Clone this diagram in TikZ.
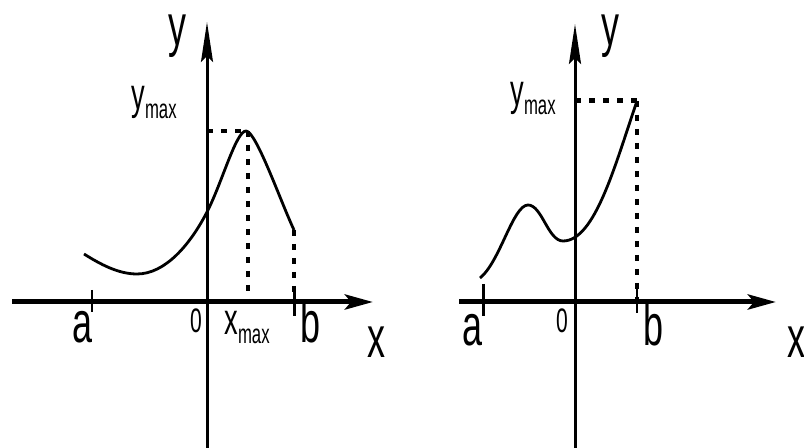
\documentclass[tikz,border=0pt]{standalone}
\usepackage{fontspec}
\setmainfont{Liberation Sans}[FakeStretch=0.62]
\usepackage{tikz}
\usetikzlibrary{arrows.meta,calc}
\newcommand{\maxsub}{\raisebox{-4.5pt}{\fontsize{13.5}{14}\selectfont max}}

\begin{document}
\begin{tikzpicture} [x=0.5pt, y=-0.5pt,
    line width=1.4pt,
    every node/.style={inner sep=0pt, anchor=base},
    lbl/.style={font=\fontsize{29}{30}\selectfont},
    sublbl/.style={font=\fontsize{22}{23}\selectfont, anchor=base west},
    zero/.style={font=\fontsize{17}{18}\selectfont},
    xaxis/.style={line width=2.5pt, -{Stealth[length=14pt, width=7.5pt, inset=3pt]}},
    yaxis/.style={line width=1.5pt, -{Stealth[length=20pt, width=6pt, inset=3pt]}},
    guide/.style={line width=1.8pt, dash pattern=on 3pt off 4pt}]
  \useasboundingbox (0,0) rectangle (804,448);

  % left graph
  \coordinate (L0) at (207,302);
  \coordinate (La) at (92,302);
  \coordinate (Lb) at (294,302);
  \coordinate (Lm) at (248,302);
  \coordinate (Lpeak) at (246,131);
  \coordinate (Lend) at (294,230);
  \draw[xaxis] (12,302) -- (373,302);
  \draw[yaxis] (207,448) -- (207,22);
  \draw[line width=1pt] (92,290) -- (92,312);
  \draw[line width=1.5pt] (294,287) -- (294,316);
  \draw (84,254) .. controls (100,264) and (118,274) .. (137,274)
                 .. controls (165,274) and (190,245) .. (207,212)
                 .. controls (222,183) and (236,131) .. (Lpeak)
                 .. controls (256,131) and (280,200) .. (Lend);
  \draw[guide, line width=2.2pt] (207,131) -- (Lpeak);
  \draw[guide] (248,131) -- (Lm);
  \draw[guide, line width=2pt] (Lend) -- (Lb);

  \node[lbl] (Ly) at (177,46) {y};
  \node[sublbl] (Lymax) at (130,110) {y\maxsub};
  \node[lbl] (Lalbl) at (82,343) {a};
  \node[zero] (Lzero) at (196,333) {0};
  \node[sublbl] (Lxmax) at (223,335) {x\maxsub};
  \node[lbl] (Lblbl) at (310,343) {b};
  \node[lbl] (Lx) at (376,358) {x};

  % right graph
  \coordinate (R0) at (575,302);
  \coordinate (Rb) at (637,302);
  \coordinate (Rtop) at (637,101);
  \draw[xaxis] (459,302) -- (776,302);
  \draw[yaxis] (575,448) -- (575,24);
  \draw[line width=1.5pt] (483,284) -- (483,316);
  \draw[line width=1pt] (637,289) -- (637,313);
  \draw (480,278) .. controls (500,262) and (513,205) .. (528,205)
                  .. controls (542,205) and (548,241) .. (563,241)
                  .. controls (595,241) and (615,165) .. (Rtop);
  \draw[guide, line width=2.5pt] (575,101) -- (Rtop);
  \draw[guide] (Rtop) -- (Rb);

  \node[lbl] (Ry) at (610,46) {y};
  \node[sublbl] (Rymax) at (509,106) {y\maxsub};
  \node[lbl] (Ralbl) at (472,346) {a};
  \node[zero] (Rzero) at (562,333) {0};
  \node[lbl] (Rblbl) at (653,346) {b};
  \node[lbl] (Rx) at (796,358) {x};
\end{tikzpicture}
\end{document}
